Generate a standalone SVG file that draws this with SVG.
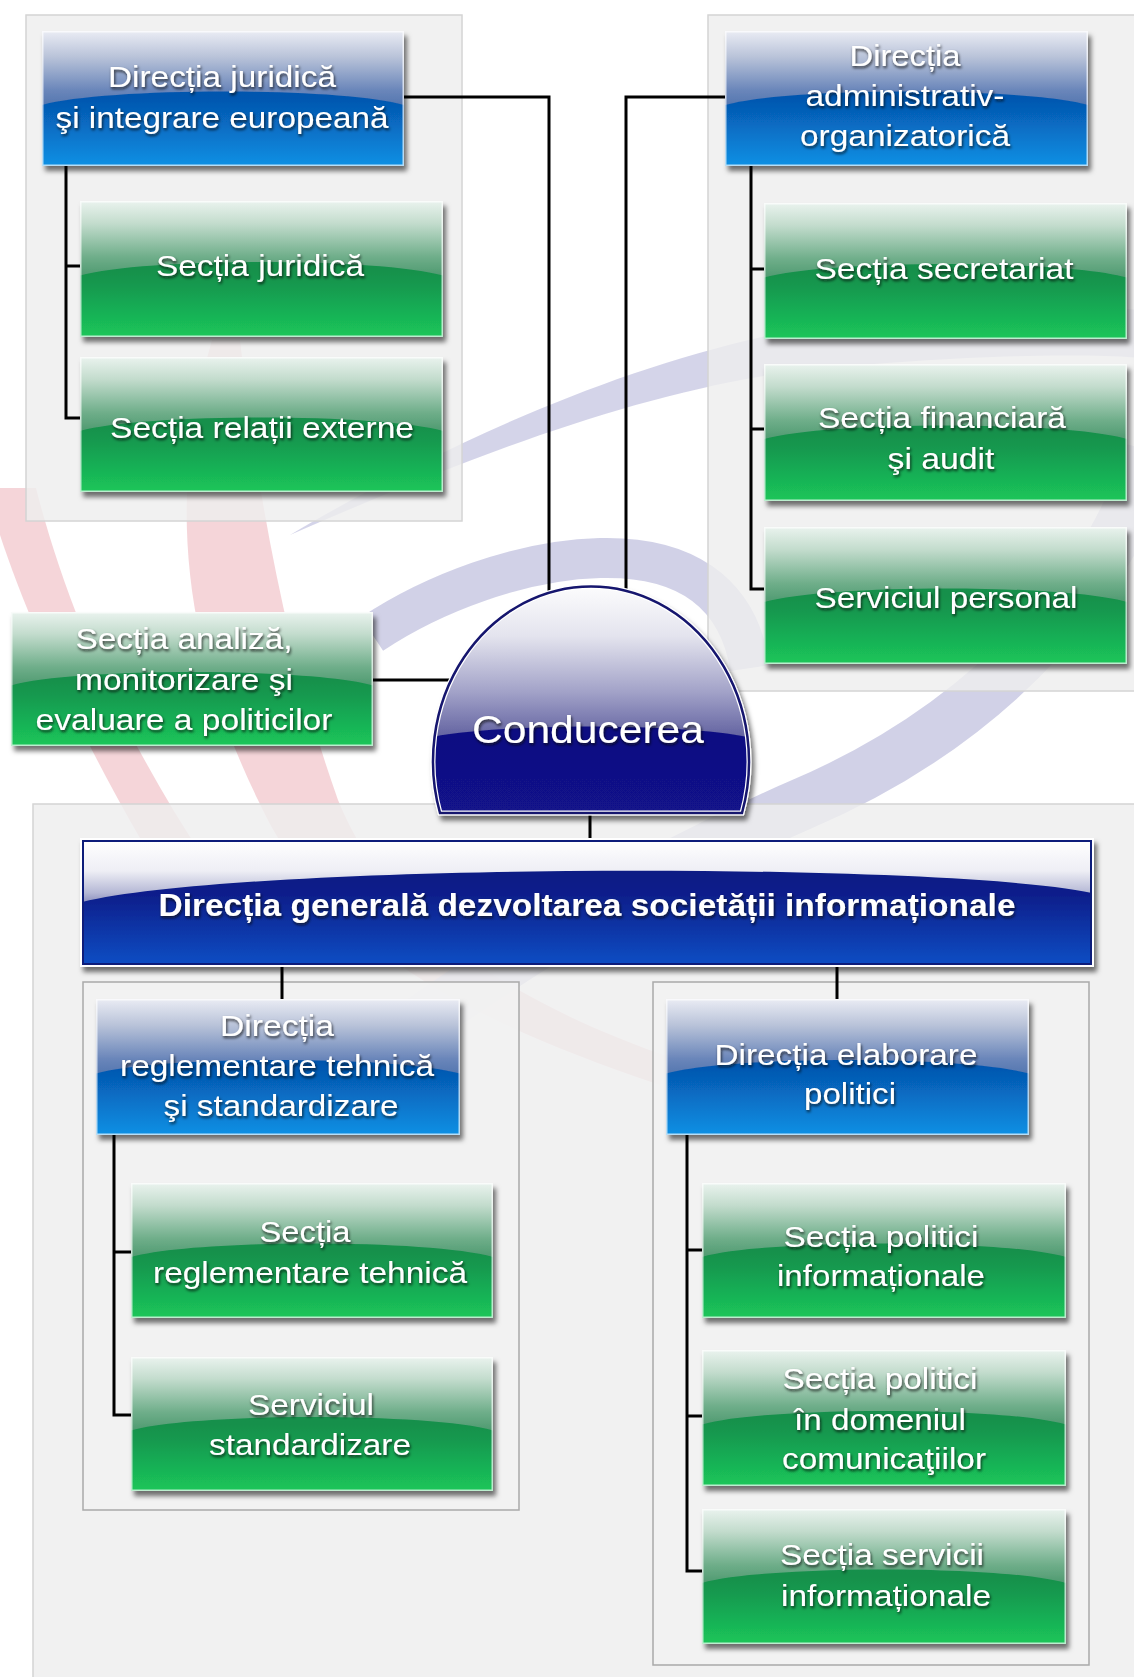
<svg xmlns="http://www.w3.org/2000/svg" xmlns:xlink="http://www.w3.org/1999/xlink" width="1134" height="1677" viewBox="0 0 1134 1677">
<defs>
<style>
.t{font-family:"Liberation Sans",Arial,sans-serif;font-size:30px;fill:#ffffff;text-anchor:middle;filter:url(#ts)}
.tb{font-weight:bold;font-size:31px}
.tc{font-size:38px}
.panel{fill:#eeeeee;fill-opacity:0.82;stroke:#d4d4d4;stroke-width:1.5}
.sub{fill:#f2f2f2;fill-opacity:0.8;stroke:#a9a9a9;stroke-width:1.5}
.con{fill:none;stroke:#000000;stroke-width:3}
.pink{fill:#efb9bf;fill-opacity:0.6}
.lav{fill:none;stroke:#c9c9e3;stroke-opacity:0.85}
</style>
<linearGradient id="gLow" x1="0" y1="0" x2="0" y2="1">
<stop offset="0" stop-color="#2f8c5a"/><stop offset="0.5" stop-color="#14904b"/><stop offset="0.62" stop-color="#15994f"/><stop offset="1" stop-color="#1bc65a"/>
</linearGradient>
<linearGradient id="gHigh" x1="0" y1="0" x2="0" y2="1">
<stop offset="0" stop-color="#eaf3ee"/><stop offset="0.3" stop-color="#c3dccd"/><stop offset="0.75" stop-color="#6fae8a"/><stop offset="1" stop-color="#4f9a70"/>
</linearGradient>
<linearGradient id="bLow" x1="0" y1="0" x2="0" y2="1">
<stop offset="0" stop-color="#003f96"/><stop offset="0.5" stop-color="#0557b0"/><stop offset="0.6" stop-color="#0660b8"/><stop offset="1" stop-color="#0b90e4"/>
</linearGradient>
<linearGradient id="bHigh" x1="0" y1="0" x2="0" y2="1">
<stop offset="0" stop-color="#eaecf4"/><stop offset="0.35" stop-color="#b9c3d9"/><stop offset="0.8" stop-color="#6a86ba"/><stop offset="1" stop-color="#5577b0"/>
</linearGradient>
<linearGradient id="mLow" x1="0" y1="0" x2="0" y2="1">
<stop offset="0" stop-color="#0a157a"/><stop offset="0.45" stop-color="#0b1f8c"/><stop offset="1" stop-color="#0b4ec4"/>
</linearGradient>
<linearGradient id="mHigh" x1="0" y1="0" x2="0" y2="1">
<stop offset="0" stop-color="#ffffff"/><stop offset="0.5" stop-color="#eeeef5"/><stop offset="0.85" stop-color="#b5b8d5"/><stop offset="1" stop-color="#8e92c0"/>
</linearGradient>
<linearGradient id="dLow" x1="0" y1="0" x2="0" y2="1">
<stop offset="0" stop-color="#0c0c72"/><stop offset="1" stop-color="#12128a"/>
</linearGradient>
<linearGradient id="dHigh" x1="0" y1="0" x2="0" y2="1">
<stop offset="0" stop-color="#ffffff"/><stop offset="0.35" stop-color="#e4e4ee"/><stop offset="0.7" stop-color="#a2a2c8"/><stop offset="1" stop-color="#5e5e9e"/>
</linearGradient>
<filter id="sh" x="-5%" y="-8%" width="115%" height="130%">
<feDropShadow dx="3" dy="5" stdDeviation="2.5" flood-color="#000000" flood-opacity="0.55"/>
</filter>
<filter id="ts" x="-5%" y="-30%" width="110%" height="160%">
<feDropShadow dx="1" dy="2" stdDeviation="1.5" flood-color="#111111" flood-opacity="0.8"/>
</filter>
<clipPath id="domeClip"><path d="M440,813 A158,175 0 1 1 742,813 Z"/></clipPath>
<symbol id="gbox" viewBox="0 0 363 135" preserveAspectRatio="none">
<rect x="0" y="0" width="363" height="135" fill="url(#gLow)"/>
<path d="M0,0 H363 V74 C300,56 63,56 0,74 Z" fill="url(#gHigh)"/>
<rect x="0.75" y="0.75" width="361.5" height="133.5" fill="none" stroke="#ffffff" stroke-opacity="0.7" stroke-width="1.5"/>
</symbol>
<symbol id="bbox" viewBox="0 0 363 135" preserveAspectRatio="none">
<rect x="0" y="0" width="363" height="135" fill="url(#bLow)"/>
<path d="M0,0 H363 V74 C300,56 63,56 0,74 Z" fill="url(#bHigh)"/>
<rect x="0.75" y="0.75" width="361.5" height="133.5" fill="none" stroke="#ffffff" stroke-opacity="0.7" stroke-width="1.5"/>
</symbol>
</defs>

<rect x="0" y="0" width="1134" height="1677" fill="#ffffff"/>

<g id="decoration">
<path class="pink" d="M0,488 L36,488 C62,590 112,720 205,860 L165,880 C85,750 28,620 0,535 Z"/>
<path class="pink" d="M212,340 C165,500 185,650 258,800 C318,930 435,1010 660,1085 L672,1058 C475,990 378,900 338,800 C288,660 258,500 240,340 Z"/>
<path d="M290,535 C420,458 600,370 780,333 C950,300 1080,305 1140,310 L1140,358 C1080,353 950,355 790,372 C620,395 440,470 290,535 Z" fill="#c9c9e3" fill-opacity="0.8"/>
<path class="lav" stroke-width="52" d="M1150,450 C1120,570 1000,720 800,805 C650,870 520,950 380,1050"/>
<path class="lav" stroke-width="40" d="M372,634 C432,594 520,560 600,558 C680,556 738,588 750,668"/>
</g>

<g id="panels">
<rect class="panel" x="26" y="15" width="436" height="506"/>
<rect class="panel" x="708" y="15" width="440" height="676"/>
<rect class="panel" x="33" y="804" width="1120" height="890"/>
<rect class="sub" x="83" y="982" width="436" height="528"/>
<rect class="sub" x="653" y="982" width="436" height="683"/>
</g>

<g id="connectors">
<path class="con" d="M404,97 H549 V594"/>
<path class="con" d="M725,97 H626 V592"/>
<path class="con" d="M373,680 H452"/>
<path class="con" d="M590,813 V840"/>
<path class="con" d="M282,965 V999"/>
<path class="con" d="M837,965 V999"/>
<path class="con" d="M66,166 V418 H80 M66,266 H80"/>
<path class="con" d="M751,166 V589 H764 M751,269 H764 M751,429 H764"/>
<path class="con" d="M114,1135 V1415 H131 M114,1252 H131"/>
<path class="con" d="M687,1135 V1571 H702 M687,1250 H702 M687,1416 H702"/>
</g>

<g id="n-dir-juridica">
<use href="#bbox" x="42" y="31" width="362" height="135" filter="url(#sh)"/>
<text class="t" x="222" y="87" textLength="228" lengthAdjust="spacingAndGlyphs">Direcția juridică</text>
<text class="t" x="222" y="128" textLength="333" lengthAdjust="spacingAndGlyphs">şi integrare europeană</text>
</g>
<g id="n-sectia-juridica">
<use href="#gbox" x="80" y="201" width="363" height="136" filter="url(#sh)"/>
<text class="t" x="260" y="276" textLength="208" lengthAdjust="spacingAndGlyphs">Secția juridică</text>
</g>
<g id="n-relatii-externe">
<use href="#gbox" x="80" y="357" width="363" height="135" filter="url(#sh)"/>
<text class="t" x="262" y="438" textLength="304" lengthAdjust="spacingAndGlyphs">Secția relații externe</text>
</g>

<g id="n-dir-admin">
<use href="#bbox" x="725" y="31" width="363" height="135" filter="url(#sh)"/>
<text class="t" x="905" y="66" textLength="111" lengthAdjust="spacingAndGlyphs">Direcția</text>
<text class="t" x="905" y="106" textLength="199" lengthAdjust="spacingAndGlyphs">administrativ-</text>
<text class="t" x="905" y="146" textLength="210" lengthAdjust="spacingAndGlyphs">organizatorică</text>
</g>
<g id="n-secretariat">
<use href="#gbox" x="764" y="203" width="363" height="136" filter="url(#sh)"/>
<text class="t" x="944" y="279" textLength="259" lengthAdjust="spacingAndGlyphs">Secția secretariat</text>
</g>
<g id="n-financiara">
<use href="#gbox" x="764" y="364" width="363" height="137" filter="url(#sh)"/>
<text class="t" x="942" y="428" textLength="248" lengthAdjust="spacingAndGlyphs">Secția financiară</text>
<text class="t" x="941" y="469" textLength="107" lengthAdjust="spacingAndGlyphs">şi audit</text>
</g>
<g id="n-personal">
<use href="#gbox" x="764" y="527" width="363" height="137" filter="url(#sh)"/>
<text class="t" x="946" y="608" textLength="263" lengthAdjust="spacingAndGlyphs">Serviciul personal</text>
</g>

<g id="n-analiza">
<use href="#gbox" x="11" y="612" width="362" height="134" filter="url(#sh)"/>
<text class="t" x="184" y="649" textLength="217" lengthAdjust="spacingAndGlyphs">Secția analiză,</text>
<text class="t" x="184" y="690" textLength="218" lengthAdjust="spacingAndGlyphs">monitorizare şi</text>
<text class="t" x="184" y="730" textLength="297" lengthAdjust="spacingAndGlyphs">evaluare a politicilor</text>
</g>

<g id="n-conducerea">
<g filter="url(#sh)">
<path d="M440,813 A158,175 0 1 1 742,813 Z" fill="url(#dLow)"/>
<path clip-path="url(#domeClip)" d="M420,580 H760 V740 C700,722 480,722 420,740 Z" fill="url(#dHigh)"/>
<path d="M440,813 A158,175 0 1 1 742,813 Z" fill="none" stroke="#ffffff" stroke-width="5"/>
<path d="M440,813 A158,175 0 1 1 742,813 Z" fill="none" stroke="#15156e" stroke-width="2.5"/>
</g>
<text class="t tc" x="588" y="743" textLength="232" lengthAdjust="spacingAndGlyphs">Conducerea</text>
</g>

<g id="n-dir-generala">
<g filter="url(#sh)">
<rect x="82" y="840" width="1010" height="125" fill="url(#mLow)"/>
<path d="M82,840 H1092 V893 C950,862 250,862 82,902 Z" fill="url(#mHigh)"/>
<rect x="82" y="840" width="1010" height="125" fill="none" stroke="#ffffff" stroke-width="4"/>
<rect x="83" y="841" width="1008" height="123" fill="none" stroke="#0d1a7a" stroke-width="2"/>
</g>
<text class="t tb" x="587" y="916" textLength="857" lengthAdjust="spacingAndGlyphs">Direcția generală dezvoltarea societății informaționale</text>
</g>

<g id="n-dir-reglementare">
<use href="#bbox" x="96" y="999" width="364" height="136" filter="url(#sh)"/>
<text class="t" x="277" y="1036" textLength="114" lengthAdjust="spacingAndGlyphs">Direcția</text>
<text class="t" x="277" y="1076" textLength="314" lengthAdjust="spacingAndGlyphs">reglementare tehnică</text>
<text class="t" x="281" y="1116" textLength="235" lengthAdjust="spacingAndGlyphs">şi standardizare</text>
</g>
<g id="n-sectia-reglementare">
<use href="#gbox" x="131" y="1183" width="362" height="135" filter="url(#sh)"/>
<text class="t" x="305" y="1242" textLength="91" lengthAdjust="spacingAndGlyphs">Secția</text>
<text class="t" x="310" y="1283" textLength="314" lengthAdjust="spacingAndGlyphs">reglementare tehnică</text>
</g>
<g id="n-standardizare">
<use href="#gbox" x="131" y="1357" width="362" height="134" filter="url(#sh)"/>
<text class="t" x="311" y="1415" textLength="126" lengthAdjust="spacingAndGlyphs">Serviciul</text>
<text class="t" x="310" y="1455" textLength="202" lengthAdjust="spacingAndGlyphs">standardizare</text>
</g>

<g id="n-dir-elaborare">
<use href="#bbox" x="666" y="999" width="363" height="136" filter="url(#sh)"/>
<text class="t" x="846" y="1065" textLength="263" lengthAdjust="spacingAndGlyphs">Direcția elaborare</text>
<text class="t" x="850" y="1104" textLength="92" lengthAdjust="spacingAndGlyphs">politici</text>
</g>
<g id="n-politici-info">
<use href="#gbox" x="702" y="1183" width="364" height="135" filter="url(#sh)"/>
<text class="t" x="881" y="1247" textLength="195" lengthAdjust="spacingAndGlyphs">Secția politici</text>
<text class="t" x="881" y="1286" textLength="208" lengthAdjust="spacingAndGlyphs">informaționale</text>
</g>
<g id="n-politici-comunicatii">
<use href="#gbox" x="702" y="1350" width="364" height="136" filter="url(#sh)"/>
<text class="t" x="880" y="1389" textLength="195" lengthAdjust="spacingAndGlyphs">Secția politici</text>
<text class="t" x="880" y="1430" textLength="172" lengthAdjust="spacingAndGlyphs">în domeniul</text>
<text class="t" x="884" y="1469" textLength="204" lengthAdjust="spacingAndGlyphs">comunicaţiilor</text>
</g>
<g id="n-servicii-info">
<use href="#gbox" x="702" y="1509" width="364" height="135" filter="url(#sh)"/>
<text class="t" x="882" y="1565" textLength="204" lengthAdjust="spacingAndGlyphs">Secția servicii</text>
<text class="t" x="886" y="1606" textLength="210" lengthAdjust="spacingAndGlyphs">informaționale</text>
</g>
</svg>
